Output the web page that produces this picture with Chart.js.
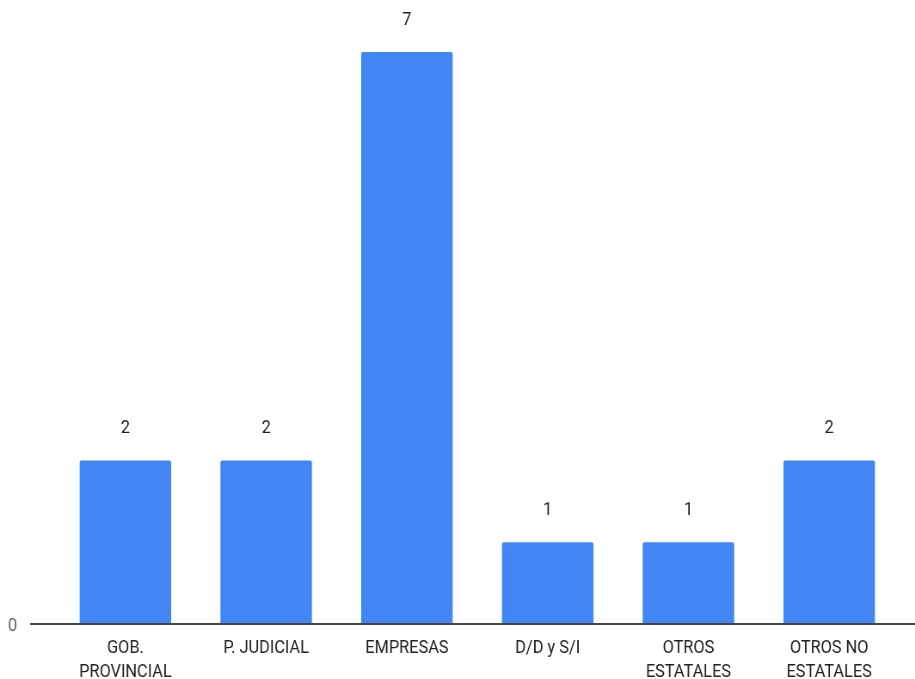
<!DOCTYPE html>
<html>
<head>
<meta charset="utf-8">
<script src="https://cdn.jsdelivr.net/npm/chart.js@4.4.0/dist/chart.umd.min.js"></script>
<style>
  html,body{margin:0;padding:0;background:#fff;}
  #wrap{width:915px;height:679px;overflow:hidden;}
  #grafico{transform:scaleX(0.86);transform-origin:0 0;}
</style>
</head>
<body>
<div id="wrap"><canvas id="grafico" width="1064" height="679"></canvas></div>
<script>
const categorias=[["GOB.","PROVINCIAL"],"P. JUDICIAL","EMPRESAS","D/D y S/I",["OTROS","ESTATALES"],["OTROS NO","ESTATALES"]]
const valores=[2,2,7,1,1,2]
const ticksY=[0]

const fuente="Roboto"

// valores encima de cada barra
const etiquetasBarras={
    id:'etiquetasBarras',
    afterDatasetsDraw(chart){
        const ctx=chart.ctx
        const meta=chart.getDatasetMeta(0)
        ctx.save()
        ctx.font="19px "+fuente
        ctx.fillStyle="#222222"
        ctx.textAlign="center"
        ctx.textBaseline="middle"
        meta.data.forEach((barra,i)=>{
            ctx.fillText(String(valores[i]),barra.x,barra.y-32)
        })
        ctx.restore()
    }
}

// linea base y etiqueta del eje y
const lineaBase={
    id:'lineaBase',
    afterDraw(chart){
        const ctx=chart.ctx
        const y=chart.scales.y
        ctx.save()
        ctx.strokeStyle="#444444"
        ctx.lineWidth=2
        const py=Math.round(y.getPixelForValue(0))
        ctx.beginPath()
        ctx.moveTo(35,py)
        ctx.lineTo(chart.width,py)
        ctx.stroke()
        ctx.font="19px "+fuente
        ctx.fillStyle="#666666"
        ctx.textAlign="center"
        ctx.textBaseline="middle"
        ticksY.forEach(t=>{
            ctx.fillText(String(t),14.5,y.getPixelForValue(t)+2)
        })
        ctx.restore()
    }
}

let ctx=document.getElementById("grafico")
new Chart(ctx,{
    type:'bar',
    data:{
        labels:categorias,
        datasets:[{
            data:valores,
            backgroundColor:'#4285F4',
            borderRadius:2,
            barPercentage:0.65,
            categoryPercentage:1
        }]
    },
    options:{
        responsive:false,
        animation:false,
        layout:{
            padding:{left:64,right:18,top:52,bottom:-9}
        },
        plugins:{
            legend:{display:false},
            tooltip:{enabled:false}
        },
        scales:{
            x:{
                grid:{display:false},
                border:{display:false},
                ticks:{
                    color:'#222222',
                    font:{family:fuente,size:19,lineHeight:1.263},
                    padding:4,
                    maxRotation:0,
                    autoSkip:false
                }
            },
            y:{
                display:false,
                min:0,
                max:7
            }
        }
    },
    plugins:[etiquetasBarras,lineaBase]
})
</script>
</body>
</html>
